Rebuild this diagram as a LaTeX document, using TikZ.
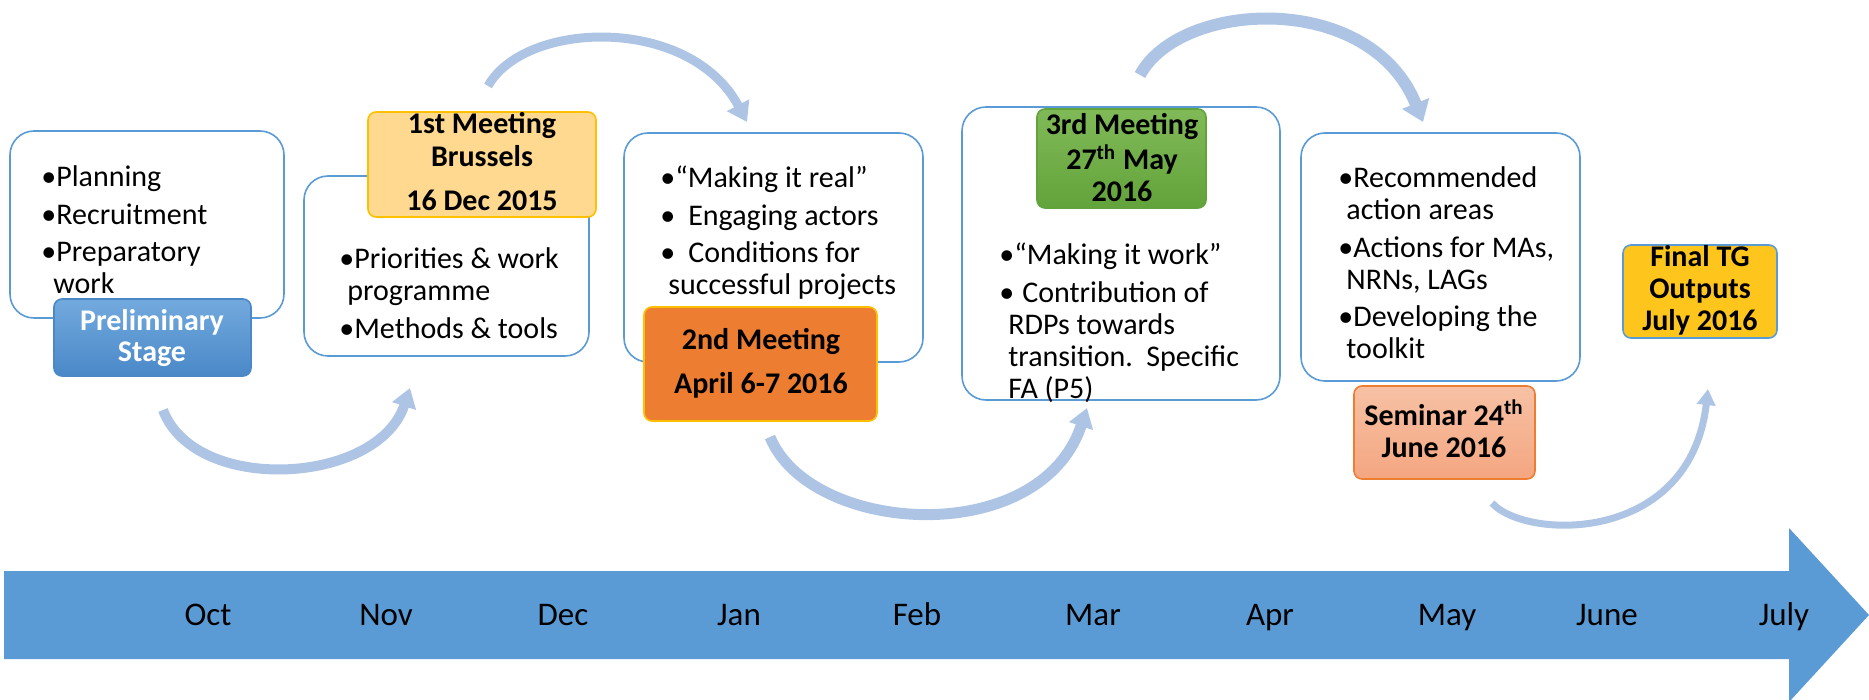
\documentclass[tikz,border=0pt]{standalone}
\usepackage{fontspec}
\setmainfont{Carlito}
\usetikzlibrary{arrows.meta}
\definecolor{axisblue}{HTML}{5B9BD5}
\definecolor{curveblue}{HTML}{AEC4E5}
\definecolor{prelimtop}{HTML}{73AADE}
\definecolor{prelimbot}{HTML}{4A88C8}
\definecolor{firstfill}{HTML}{FFD98F}
\definecolor{goldline}{HTML}{FFC000}
\definecolor{secondfill}{HTML}{ED7D31}
\definecolor{thirdtop}{HTML}{80BA58}
\definecolor{thirdbot}{HTML}{63A33B}
\definecolor{semtop}{HTML}{F7C1A5}
\definecolor{sembot}{HTML}{F4A680}
\definecolor{finalfill}{HTML}{FEC61D}
\begin{document}
\begin{tikzpicture}[x=0.5pt,y=-0.5pt,
  whitebox/.style={draw=axisblue, line width=0.8pt, fill=white, rounded corners=12pt, inner sep=0pt},
  tagbox/.style={rounded corners=4pt, line width=0.8pt, inner sep=0pt},
  bodytext/.style={anchor=base west, inner sep=0pt, font=\fontsize{15}{16}\selectfont},
  headtext/.style={anchor=base, inner sep=0pt, font=\fontsize{15}{16}\selectfont\bfseries},
  monthlabel/.style={anchor=base, inner sep=0pt, font=\fontsize{16.5}{18}\selectfont},
  curvearrow/.style={draw=curveblue, line width=5pt, -{Triangle[length=9.5pt,width=12pt]}},
]
\useasboundingbox (0,0) rectangle (1869,700);

% timeline arrow
\fill[axisblue] (4,571) -- (1789,571) -- (1789,528) -- (1869,615) -- (1789,702) -- (1789,659) -- (4,659) -- cycle;
\foreach \m/\xx [count=\i] in {Oct/208,Nov/386,Dec/563,Jan/739,Feb/917,Mar/1093,Apr/1270,May/1447,June/1607,July/1784}
  \node[monthlabel] (month\i) at (\xx,625) {\m};

% white content boxes
\node[whitebox, minimum width=137pt, minimum height=93.5pt] (box1) at (147,224.5) {};
\node[whitebox, minimum width=142.5pt, minimum height=90pt] (box2) at (446.5,266) {};
\node[whitebox, minimum width=149.5pt, minimum height=114.5pt] (box3) at (773.5,247.5) {};
\node[whitebox, minimum width=159pt, minimum height=146.5pt] (box4) at (1121,253.5) {};
\node[whitebox, minimum width=139.5pt, minimum height=124pt] (box5) at (1440.5,257) {};

% coloured tag boxes
\node[tagbox, draw=prelimbot, top color=prelimtop, bottom color=prelimbot, minimum width=98.5pt, minimum height=38.5pt] (tag1) at (152.5,337.5) {};
\node[tagbox, draw=goldline, fill=firstfill, minimum width=114pt, minimum height=52.5pt] (tag2) at (482,164.5) {};
\node[tagbox, draw=goldline, fill=secondfill, minimum width=116.5pt, minimum height=57pt] (tag3) at (760.5,364) {};
\node[tagbox, draw=thirdbot, top color=thirdtop, bottom color=thirdbot, minimum width=84.5pt, minimum height=49.5pt] (tag4) at (1121.5,158.5) {};
\node[tagbox, draw=secondfill, top color=semtop, bottom color=sembot, minimum width=90.5pt, minimum height=46.5pt] (tag5) at (1444.5,432.5) {};
\node[tagbox, draw=axisblue, fill=finalfill, minimum width=77pt, minimum height=46.5pt] (tag6) at (1700,291.5) {};

% body texts
\node[bodytext] (text1) at (41,187) {\begin{tabular}[t]{@{}l@{}}•Planning\\[2.75pt]•Recruitment\\[2.75pt]•Preparatory\\\hspace{6pt}work\end{tabular}};
\node[bodytext] (text2) at (339,269) {\begin{tabular}[t]{@{}l@{}}•Priorities \& work\\\hspace{4pt}programme\\[2.75pt]•Methods \& tools\end{tabular}};
\node[bodytext] (text3) at (660,188) {\begin{tabular}[t]{@{}l@{}}•“Making it real”\\[2.75pt]•\hspace{6.5pt}Engaging actors\\[2.75pt]•\hspace{6.5pt}Conditions for\\\hspace{4pt}successful projects\end{tabular}};
\node[bodytext] (text4) at (999,265) {\begin{tabular}[t]{@{}l@{}}•“Making it work”\\[2.75pt]•\hspace{4pt}Contribution of\\\hspace{4.5pt}RDPs towards\\\hspace{4.5pt}transition.\ \ Specific\\\hspace{4.5pt}FA (P5)\end{tabular}};
\node[bodytext] (text5) at (1338,188) {\begin{tabular}[t]{@{}l@{}}•Recommended\\\hspace{4pt}action areas\\[2.75pt]•Actions for MAs,\\\hspace{4pt}NRNs, LAGs\\[2.75pt]•Developing the\\\hspace{4pt}toolkit\end{tabular}};

% tag texts
\node[headtext, text=white] (head1) at (152,330) {\begin{tabular}[t]{@{}c@{}}Preliminary\\Stage\end{tabular}};
\node[headtext] (head2) at (482,134) {\begin{tabular}[t]{@{}c@{}}1st Meeting\\[0.5pt]Brussels\\[6pt]16 Dec 2015\end{tabular}};
\node[headtext] (head3) at (761,350) {\begin{tabular}[t]{@{}c@{}}2nd Meeting\\[6pt]April 6-7 2016\end{tabular}};
\node[headtext] (head4) at (1122,135) {\begin{tabular}[t]{@{}c@{}}3rd Meeting\\27\textsuperscript{th} May\\2016\end{tabular}};
\node[headtext] (head5) at (1444,425) {\begin{tabular}[t]{@{}c@{}}Seminar 24\textsuperscript{th}\\June 2016\end{tabular}};
\node[headtext] (head6) at (1700,267) {\begin{tabular}[t]{@{}c@{}}Final TG\\Outputs\\July 2016\end{tabular}};

% curved arrows
\coordinate (a1s) at (163,410); \coordinate (a1e) at (410,388);
\coordinate (a2s) at (488,86);  \coordinate (a2e) at (747,122);
\coordinate (a3s) at (770,437); \coordinate (a3e) at (1087,408);
\coordinate (a4s) at (1140,75); \coordinate (a4e) at (1423,122);
\coordinate (a5s) at (1492,503); \coordinate (a5e) at (1708,389);
\draw[curvearrow] (a1s) .. controls (195,495) and (378,485) .. (a1e);
\draw[curvearrow, line width=4.5pt] (a2s) .. controls (525,20) and (690,15) .. (a2e);
\draw[curvearrow, line width=5.5pt] (a3s) .. controls (810,535) and (1040,550) .. (a3e);
\draw[curvearrow, line width=6pt, -{Triangle[length=10pt,width=14pt]}] (a4s) .. controls (1180,0) and (1370,-10) .. (a4e);
\draw[curvearrow, line width=3.5pt, -{Triangle[length=8pt,width=9pt]}] (a5s) .. controls (1525,540) and (1690,545) .. (a5e);
\end{tikzpicture}
\end{document}
